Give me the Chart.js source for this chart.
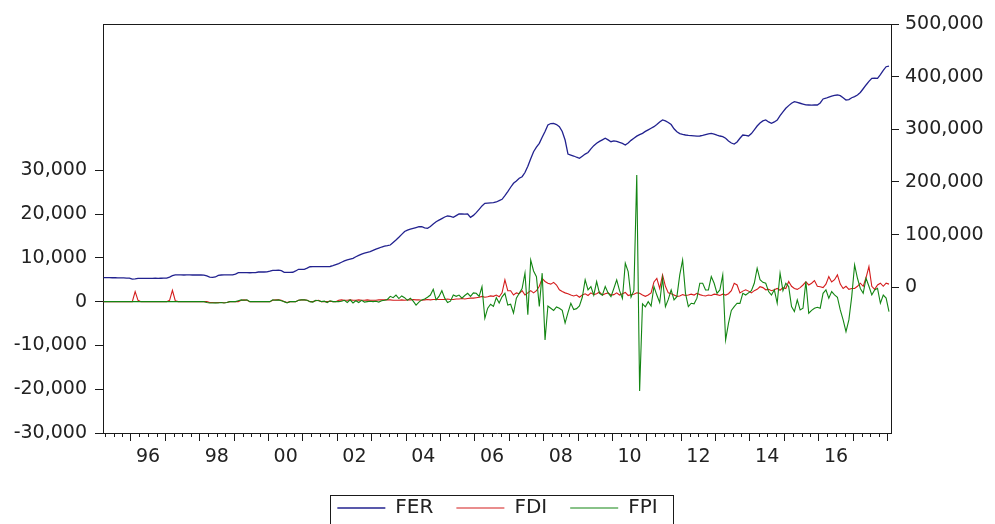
<!DOCTYPE html>
<html>
<head>
<meta charset="utf-8">
<script src="https://cdn.jsdelivr.net/npm/chart.js@4.4.1/dist/chart.umd.min.js"></script>
<style>
  html, body { margin: 0; padding: 0; background: #fff; }
</style>
</head>
<body>
<canvas id="reserveChart" width="995" height="524"></canvas>
<script>
// monthly series, 1995M03 .. 2018M01 (one line per year)
const startYear = 1995, startMonth = 3;

// FER (right axis)
const fer = [
  18200, 18300, 18200, 18100, 18200, 18000, 17900, 17800, 17600, 17300,
  15500, 15800, 16800, 17100, 17100, 17000, 17100, 17100, 17200, 17100, 17200, 17300,
  17500, 19500, 22000, 23400, 23400, 23500, 23300, 23500, 23400, 23300, 23400, 23300,
  23400, 23200, 21500, 19200, 19000, 19600, 22500, 23300, 23400, 23500, 23400, 23400,
  25000, 27700, 27700, 27700, 27800, 27600, 27700, 27700, 29000, 29100, 29000, 29100,
  30500, 32300, 32300, 32400, 31500, 28500, 28500, 28400, 28600, 31000, 34200, 34200,
  34200, 36500, 39000, 39100, 39100, 39200, 39100, 39300, 39100, 39500, 41000, 43000,
  45000, 47500, 50000, 52000, 53500, 55100, 58000, 60500, 63000, 65000, 66500, 67600,
  70000, 72500, 74500, 76500, 78000, 79000, 80300, 85000, 89800, 95000, 100500, 106000,
  108500, 110500, 112000, 113500, 115100, 115000, 113000, 112000, 115500, 120000, 124600, 127500,
  130500, 133500, 135400, 134500, 132900, 136000, 139200, 139500, 139000, 139200, 132900, 136500,
  141700, 148000, 154500, 159500, 160000, 160300, 160700, 162000, 164500, 167100, 174000, 181500,
  190000, 197500, 202000, 207000, 210000, 218000, 230000, 244000, 257500, 266000, 273400, 285000,
  296000, 308200, 311000, 311400, 309000, 305000, 296000, 279700, 253000, 251200, 249300, 247000,
  245000, 249000, 253000, 256000, 263000, 269000, 273400, 277000, 280000, 283000, 280000, 276500,
  278000, 277000, 275000, 273400, 270200, 274000, 279000, 283000, 287000, 290000, 292400, 296000,
  299000, 302000, 305000, 309000, 314000, 317700, 316000, 313000, 309000, 301000, 295500, 292000,
  290500, 289200, 288500, 288000, 287500, 287000, 287300, 288500, 290000, 291500, 292400, 291000,
  289000, 287300, 286000, 283000, 278000, 274000, 272100, 276000, 283000, 289200, 288500, 287300,
  292000, 299000, 306300, 312000, 316000, 317700, 314000, 311400, 314000, 317700, 326000, 333000,
  339900, 345000, 349500, 352400, 351000, 349500, 348000, 346500, 346200, 346000, 346200, 346200,
  350000, 357600, 359000, 361000, 363000, 364500, 365200, 364000, 360000, 355700, 356500, 360000,
  362000, 365200, 370000, 377000, 384200, 391000, 396900, 397000, 396900, 404000, 412000, 418900,
  420200
];

// FDI (left axis)
const fdi = [
  0, 0, 0, 0, 0, 0, 0, 0, 0, 0,
  0, 2300, 300, 0, 0, 0, 0, 0, 0, 0, 0, 0,
  0, 300, 2600, 200, 0, 0, 0, 0, 0, 0, 0, 0,
  0, 0, 0, -200, -200, -250, -200, -200, -250, -200, 0, 0,
  0, 0, 300, 400, 300, 0, 0, 0, 0, 0, 0, 0,
  0, 300, 400, 400, 300, 0, -200, 0, 0, 0, 300, 400,
  400, 300, 0, 0, 200, 300, 0, 0, 0, 100, 0, 0,
  300, 400, 300, 300, 400, 300, 300, 400, 300, 300, 400, 300,
  300, 300, 400, 400, 400, 400, 400, 300, 300, 300, 400, 300,
  400, 400, 500, 400, 400, 300, 400, 500, 400, 500, 500, 500,
  500, 500, 600, 500, 500, 600, 600, 700, 600, 700, 800, 800,
  900, 1000, 1200, 1000, 1100, 1300, 1200, 1500, 1100, 2000, 4960, 2500,
  2500, 1500, 2000, 1800, 2500, 1500, 2000, 2500, 2000, 2500, 3500, 5300,
  4600, 4200, 4000, 4400, 3800, 2700, 2300, 2000, 1800, 1500, 1300, 1500,
  1000, 1500, 1800, 1400, 2000, 1600, 1800, 2200, 1500, 1800, 2000, 1500,
  1600, 2000, 1500, 1800, 2100, 1400, 1600, 1700, 2000, 1900, 1500, 1200,
  1500, 2000, 4500, 5300, 3000, 6100, 3500, 2000, 1800, 1500, 1200, 1300,
  1600, 1400, 1500, 1700, 1500, 1900, 1600, 1400, 1300, 1500, 1400, 1700,
  1600, 1400, 1700, 1500, 1800, 2500, 4200, 3800, 2000, 2400, 2700, 2400,
  2000, 2500, 2800, 3400, 3200, 2700, 2800, 2500, 2700, 3000, 2600, 3200,
  3000, 4600, 3500, 3000, 2800, 3200, 3800, 4500, 3800, 4200, 4800, 3500,
  3400, 3200, 4000, 5700, 4500, 5000, 6100, 4000, 3000, 3500, 2800, 3000,
  3000, 3500, 4200, 3500, 5500, 8000, 3500, 2800, 3800, 4200, 3500, 4200,
  4000
];

// FPI (left axis)
const fpi = [
  0, 0, 0, 0, 0, 0, 0, 0, 0, 0,
  0, 0, 0, 0, 0, 0, 0, 0, 0, 0, 0, 0,
  0, 0, 0, 0, 0, 0, 0, 0, 0, 0, 0, 0,
  0, 0, -200, -300, -300, -250, -300, -200, -300, -200, 0, 0,
  0, 200, 400, 300, 400, 0, 0, 0, 0, 0, 0, 0,
  0, 400, 300, 400, 200, 0, -300, 0, 0, 0, 300, 400,
  400, 300, 0, -100, 300, 200, 0, 100, -200, 200, 0, 0,
  0, 100, 300, -200, 400, -300, 200, -200, 300, -100, 0, 100,
  0, 100, -100, 200, 300, 500, 1200, 900, 1500, 700, 1300, 900,
  300, 800, 100, -800, -100, 400, 600, 1000, 1500, 2800, 400, 1200,
  2500, 800, -200, 100, 1500, 1200, 1500, 800, 1400, 1900, 1200, 2000,
  1900, 1200, 3400, -3800, -1500, -600, -1100, 900, -300, 1100, 1900, -800,
  -600, -2600, 800, 1900, 3000, 6500, -3000, 9500, 7000, 5700, -1100, 6500,
  -8750, -1000, -1500, -2000, -1200, -1500, -2000, -4900, -2500, -400, -1800, -1600,
  -1000, 1000, 5000, 2700, 3430, 1500, 4580, 1900, 1500, 3430, 2000, 1140,
  3000, 4960, 2500, 700, 8770, 6860, 1000, 2500, 28900, -20400, -500, -1200,
  0, -1000, 3430, 1500, -200, 5340, -1140, 500, 2670, 400, 1140, 6100,
  9530, 1900, -1140, -370, -500, 800, 4200, 4200, 2670, 2670, 5720, 4200,
  1900, 2670, 6100, -8750, -4950, -2000, -1140, -370, -400, 1900, 1500, 2000,
  2500, 4200, 7630, 5000, 4400, 4200, 2300, 1500, 2700, -370, 6490, 2500,
  4200, 3430, -1140, -2280, 380, -1900, -1500, 4600, -2650, -2000, -1500, -1300,
  -1500, 1900, 2670, 760, 2290, 1530, 1000, -1900, -4180, -6850, -4180, 1140,
  8390, 5340, 3000, 1900, 5340, 3500, 1530, 2670, 3050, -370, 1500, 800,
  -2280
];

// axis ticks
const leftTicks = [-30000, -20000, -10000, 0, 10000, 20000, 30000];
const rightTicks = [0, 100000, 200000, 300000, 400000, 500000];
const labelYears = [1996, 1998, 2000, 2002, 2004, 2006, 2008, 2010, 2012, 2014, 2016];
const labelText = ['96', '98', '00', '02', '04', '06', '08', '10', '12', '14', '16'];

const axisColor = '#1a1a1a';
const textColor = '#222';

// decimal-year position of each monthly observation (mid-month)
const months = fer.map((_, i) => {
  const m = startMonth - 1 + i;
  return startYear + Math.floor(m / 12) + ((m % 12) + 0.5) / 12;
});
const toPoints = arr => arr.map((v, i) => ({ x: months[i], y: v }));

// top frame line, short quarter ticks and the box round the legend
const framePlugin = {
  id: 'frame',
  afterDraw(chart) {
    const { ctx, chartArea: a } = chart;
    const x = chart.scales.x;
    ctx.save();
    ctx.strokeStyle = axisColor;
    ctx.lineWidth = 1;
    ctx.beginPath();
    ctx.moveTo(a.left, a.top + 0.5);
    ctx.lineTo(a.right, a.top + 0.5);
    x.ticks.forEach(t => {
      if (Number.isInteger(t.value)) return;
      const px = Math.round(x.getPixelForValue(t.value)) + 0.5;
      ctx.moveTo(px, a.bottom);
      ctx.lineTo(px, a.bottom + 4);
    });
    ctx.stroke();

    const hb = chart.legend.legendHitBoxes;
    if (hb && hb.length) {
      const last = hb[hb.length - 1];
      const l = Math.round(hb[0].left - 7) + 0.5;
      const r = Math.round(last.left + last.width + 15) + 0.5;
      const t = Math.round(hb[0].top - 3) + 0.5;
      ctx.strokeRect(l, t, r - l, 60);
    }
    ctx.restore();
  }
};

Chart.defaults.font.family = "'DejaVu Sans', sans-serif";
Chart.defaults.color = textColor;

new Chart(document.getElementById('reserveChart').getContext('2d'), {
  type: 'line',
  data: {
    datasets: [
      { label: 'FER', data: toPoints(fer), yAxisID: 'y1', borderColor: '#22228f', backgroundColor: '#22228f', borderWidth: 1.3, pointRadius: 0, order: 2 },
      { label: 'FDI', data: toPoints(fdi), yAxisID: 'y', borderColor: '#d41c1c', backgroundColor: '#d41c1c', borderWidth: 1.1, pointRadius: 0, order: 1 },
      { label: 'FPI', data: toPoints(fpi), yAxisID: 'y', borderColor: '#138513', backgroundColor: '#138513', borderWidth: 1.1, pointRadius: 0, order: 0 }
    ]
  },
  options: {
    responsive: false,
    animation: false,
    layout: { padding: { top: 24, left: 0, right: 0, bottom: -4 } },
    plugins: {
      tooltip: { enabled: false },
      legend: {
        position: 'bottom',
        labels: {
          usePointStyle: true,
          pointStyle: 'line',
          pointStyleWidth: 48,
          padding: 23,
          color: textColor,
          font: { size: 20 },
          sort: (a, b) => a.datasetIndex - b.datasetIndex
        }
      }
    },
    scales: {
      x: {
        type: 'linear',
        min: 1995.19,
        max: 2018.1,
        afterBuildTicks: scale => {
          const ticks = [];
          for (let k = 1995 * 4 + 1; k <= 2018 * 4; k++) ticks.push({ value: k / 4 });
          scale.ticks = ticks;
        },
        afterFit: scale => { scale.height = 42; },
        grid: {
          drawOnChartArea: false,
          tickLength: 8,
          tickWidth: 1,
          tickColor: c => (c.tick && Number.isInteger(c.tick.value)) ? axisColor : 'rgba(0,0,0,0)'
        },
        border: { display: true, color: axisColor, width: 1 },
        ticks: {
          autoSkip: false,
          maxRotation: 0,
          padding: 5,
          color: textColor,
          font: { size: 19 },
          callback: value => {
            const i = labelYears.indexOf(value - 0.5);
            return i >= 0 ? labelText[i] : '';
          }
        }
      },
      y: {
        position: 'left',
        min: -30000,
        max: 63400,
        afterBuildTicks: scale => { scale.ticks = leftTicks.map(v => ({ value: v })); },
        afterFit: scale => { scale.width = 103; },
        grid: { drawOnChartArea: false, tickLength: 8, tickColor: axisColor },
        border: { display: true, color: axisColor, width: 1 },
        ticks: {
          padding: 8,
          color: textColor,
          font: { size: 19 },
          callback: value => value.toLocaleString('en-US')
        }
      },
      y1: {
        position: 'right',
        min: -276700,
        max: 500000,
        afterBuildTicks: scale => { scale.ticks = rightTicks.map(v => ({ value: v })); },
        afterFit: scale => { scale.width = 104; },
        grid: { drawOnChartArea: false, tickLength: 8, tickColor: axisColor },
        border: { display: true, color: axisColor, width: 1 },
        ticks: {
          padding: 6,
          color: textColor,
          font: { size: 19 },
          callback: value => value.toLocaleString('en-US')
        }
      }
    }
  },
  plugins: [framePlugin]
});
</script>
</body>
</html>
